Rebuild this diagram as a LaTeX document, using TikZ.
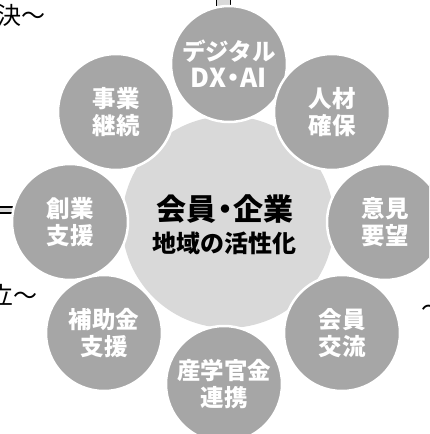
\documentclass[tikz,border=0pt]{standalone}
\usepackage{fontspec}
\newfontfamily\jp{Noto Sans CJK JP}
\definecolor{satgray}{HTML}{A6A6A6}
\definecolor{cengray}{HTML}{D9D9D9}
\newcommand{\ndot}{\kern-0.22em・\kern-0.22em}
\begin{document}
\begin{tikzpicture}[x=1pt,y=-1pt,
  sat/.style={circle,fill=satgray,draw=white,line width=2.5pt,minimum size=116pt,inner sep=0pt,
    text=white,font=\jp\bfseries\fontsize{23.5}{27}\selectfont,align=center},
  center/.style={circle,fill=cengray,minimum size=212pt,inner sep=0pt},
  side/.style={font=\jp\fontsize{24}{26}\selectfont,inner sep=0pt,text=black},
  band/.style={fill=cengray,draw=none}]
\useasboundingbox (0,0) rectangle (429,434);
\clip (0,0) rectangle (429,434);
% connectors behind circles
\fill[cengray] (216,-2) rectangle (231,20);
\draw[line width=1.3pt] (216.5,-2) -- (216.5,20) (230.5,-2) -- (230.5,20);
\fill[cengray] (-2,207) rectangle (20,213);
\draw[line width=1.3pt] (-2,207) -- (20,207) (-2,213) -- (20,213);
% side texts
\node[side,anchor=west] (t1) at (-3,15) {決〜};
\node[side,anchor=west] (t2) at (-11,295) {立〜};
\node[side,anchor=west] (t3) at (421,311) {〜};
% center
\node[center] (c) at (228,222) {};
\node[font=\jp\bfseries\fontsize{30}{32}\selectfont,inner sep=0pt] (c1) at (225,209) {会員\ndot 企業};
\node[font=\jp\bfseries\fontsize{24}{26}\selectfont,inner sep=0pt] (c2) at (224,243) {地域の活性化};
% satellites
\node[sat] (dx) at (229,64) {デジタル\\{\fontsize{26}{27}\selectfont DX\ndot AI}};
\node[sat] (jin) at (332,112) {人材\\確保};
\node[sat] (iken) at (385,222) {意見\\要望};
\node[sat] (kai) at (342,333) {会員\\交流};
\node[sat] (san) at (224,384) {産学官金\\連携};
\node[sat] (hojo) at (104,333) {補助金\\支援};
\node[sat] (sou) at (70,222) {創業\\支援};
\node[sat] (jig) at (116,112) {事業\\継続};
\end{tikzpicture}
\end{document}
